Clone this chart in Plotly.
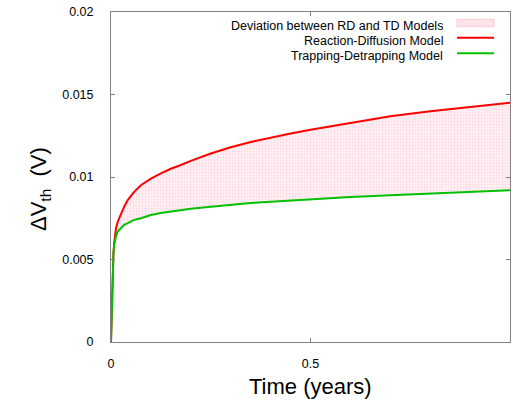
import plotly.graph_objects as go

# Time axis (years) shared by both models
time_years = [0, 0.001, 0.002, 0.003, 0.004, 0.006, 0.008, 0.010, 0.0125, 0.017,
              0.025, 0.033, 0.042, 0.058, 0.075, 0.10, 0.125, 0.15, 0.175, 0.2,
              0.25, 0.3, 0.35, 0.4, 0.45, 0.5, 0.6, 0.7, 0.8, 0.9, 1.0]

# Threshold-voltage shift (V), Reaction-Diffusion model
dvth_rd = [0, 0.0010, 0.0025, 0.0036, 0.0045, 0.0053, 0.0060, 0.0066, 0.0069, 0.0073,
           0.0078, 0.0082, 0.0086, 0.0091, 0.0095, 0.0099, 0.01022, 0.0105, 0.01073, 0.01098,
           0.01142, 0.0118, 0.01212, 0.0124, 0.01264, 0.01287, 0.01328, 0.01368, 0.01398,
           0.01425, 0.0145]

# Threshold-voltage shift (V), Trapping-Detrapping model
dvth_td = [0, 0.0010, 0.0024, 0.0035, 0.0045, 0.0053, 0.0059, 0.0062, 0.0064, 0.0067,
           0.0069, 0.0071, 0.0072, 0.0074, 0.0075, 0.0077, 0.00782, 0.00792, 0.0080, 0.00808,
           0.0082, 0.00832, 0.00842, 0.0085, 0.00858, 0.00866, 0.00879, 0.0089, 0.0090,
           0.0091, 0.0092]

x_ticks = [0, 0.5, 1]
x_tick_labels = ["0", "0.5", "1"]
y_ticks = [0, 0.005, 0.01, 0.015, 0.02]
y_tick_labels = ["0", "0.005", "0.01", "0.015", "0.02"]

legend_labels = ["Deviation between RD and TD Models",
                 "Reaction-Diffusion Model",
                 "Trapping-Detrapping Model"]

RED = "#ff0000"
GREEN = "#00c000"
PINK_FILL = "#ffe3e9"
AXIS_GRAY = "#808080"
FONT = "Liberation Sans, Arial, sans-serif"

W, H = 513, 406
L, R, T, B = 111, 3, 12, 64
PW, PH = W - L - R, H - T - B


def px(xp):
    return (xp - L) / PW


def py(yp):
    return (H - B - yp) / PH


fig = go.Figure()

# Band between the two models
fig.add_trace(go.Scatter(x=time_years, y=dvth_td, mode="lines",
                         line=dict(width=0, color=GREEN), showlegend=False,
                         hoverinfo="skip"))
fig.add_trace(go.Scatter(x=time_years, y=dvth_rd, mode="lines", fill="tonexty",
                         fillcolor=PINK_FILL,
                         fillpattern=dict(shape=".", fgcolor="#ffc4cf",
                                          bgcolor="#fff4f6", size=3, solidity=0.45),
                         line=dict(width=0, color=RED), showlegend=False,
                         hoverinfo="skip"))

# Model curves
fig.add_trace(go.Scatter(x=time_years, y=dvth_rd, mode="lines",
                         line=dict(color=RED, width=2), name=legend_labels[1],
                         showlegend=False))
fig.add_trace(go.Scatter(x=time_years, y=dvth_td, mode="lines",
                         line=dict(color=GREEN, width=2), name=legend_labels[2],
                         showlegend=False))

axis_common = dict(showgrid=False, zeroline=False, showline=True, linecolor=AXIS_GRAY,
                   linewidth=1, mirror="ticks", ticks="inside", ticklen=4,
                   tickcolor=AXIS_GRAY, tickwidth=1,
                   tickfont=dict(family=FONT, size=12.5, color="black"))

fig.update_xaxes(range=[0, 1], tickvals=x_ticks, ticktext=x_tick_labels,
                 ticklabelstandoff=10, **axis_common)
fig.update_yaxes(range=[0, 0.02], tickvals=y_ticks, ticktext=y_tick_labels,
                 ticklabelstandoff=14, **axis_common)

annotations = [
    dict(text="Time (years)", x=px(310), y=py(386), xref="paper", yref="paper",
         showarrow=False, xanchor="center", yanchor="middle",
         font=dict(family=FONT, size=22, color="black")),
    dict(text="ΔV<sub>th</sub>  (V)", x=px(40), y=py(189), xref="paper", yref="paper",
         showarrow=False, xanchor="center", yanchor="middle", textangle=-90,
         font=dict(family=FONT, size=22, color="black")),
]
legend_rows_y = [26, 41.5, 56]
for label, yy in zip(legend_labels, legend_rows_y):
    annotations.append(dict(text=label, x=px(445), y=py(yy), xref="paper", yref="paper",
                            showarrow=False, xanchor="right", yanchor="middle",
                            font=dict(family=FONT, size=12.5, color="black")))

shapes = [
    dict(type="rect", xref="paper", yref="paper", x0=px(457), x1=px(494),
         y0=py(26.7), y1=py(19.3), fillcolor=PINK_FILL,
         line=dict(color="#ffc8d2", width=1)),
    dict(type="line", xref="paper", yref="paper", x0=px(457), x1=px(494),
         y0=py(37.7), y1=py(37.7), line=dict(color=RED, width=2)),
    dict(type="line", xref="paper", yref="paper", x0=px(457), x1=px(494),
         y0=py(53.3), y1=py(53.3), line=dict(color=GREEN, width=2)),
]

fig.update_layout(width=W, height=H, margin=dict(l=L, r=R, t=T, b=B),
                  paper_bgcolor="white", plot_bgcolor="white",
                  annotations=annotations, shapes=shapes, showlegend=False)

fig.write_html("out.html")
